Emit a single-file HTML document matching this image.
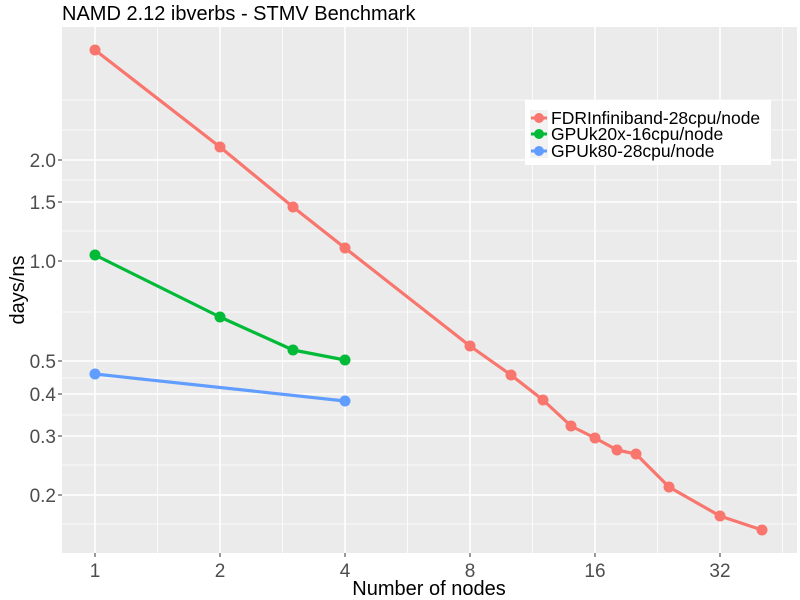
<!DOCTYPE html>
<html><head><style>body{margin:0;background:#fff}svg{display:block}</style></head><body>
<svg width="800" height="600" xmlns="http://www.w3.org/2000/svg" font-family="Liberation Sans, DejaVu Sans, sans-serif">
<rect width="800" height="600" fill="#fff"/>
<rect x="62" y="27" width="735" height="526" fill="#ebebeb"/>
<g stroke="#fff" stroke-width="0.8">
<line x1="62" x2="797" y1="100" y2="100"/><line x1="62" x2="797" y1="130" y2="130"/><line x1="62" x2="797" y1="180" y2="180"/><line x1="62" x2="797" y1="231" y2="231"/><line x1="62" x2="797" y1="312" y2="312"/><line x1="62" x2="797" y1="378" y2="378"/><line x1="62" x2="797" y1="415" y2="415"/><line x1="62" x2="797" y1="465" y2="465"/><line x1="62" x2="797" y1="524" y2="524"/>
<line y1="27" y2="553" x1="157.5" x2="157.5"/><line y1="27" y2="553" x1="282.5" x2="282.5"/><line y1="27" y2="553" x1="407.5" x2="407.5"/><line y1="27" y2="553" x1="532.5" x2="532.5"/><line y1="27" y2="553" x1="657.5" x2="657.5"/><line y1="27" y2="553" x1="782.5" x2="782.5"/>
</g>
<g stroke="#fff" stroke-width="1.6">
<line x1="62" x2="797" y1="160" y2="160"/><line x1="62" x2="797" y1="202" y2="202"/><line x1="62" x2="797" y1="261" y2="261"/><line x1="62" x2="797" y1="361" y2="361"/><line x1="62" x2="797" y1="394" y2="394"/><line x1="62" x2="797" y1="436" y2="436"/><line x1="62" x2="797" y1="495" y2="495"/>
<line y1="27" y2="553" x1="95" x2="95"/><line y1="27" y2="553" x1="220" x2="220"/><line y1="27" y2="553" x1="345" x2="345"/><line y1="27" y2="553" x1="470" x2="470"/><line y1="27" y2="553" x1="595" x2="595"/><line y1="27" y2="553" x1="720" x2="720"/>
</g>
<g fill="none" stroke-width="3.2" stroke-linejoin="round">
<polyline stroke="#f8766d" points="95,50 220,147 293,207 345,248 470,346 511,375 543,400 571,426 595,438 617,450 636,454 669,487 720,516 762,530"/>
<polyline stroke="#00ba38" points="95,255 220,317 293,350 345,360"/>
<polyline stroke="#619cff" points="95,374 345,401"/>
</g>
<g fill="#f8766d"><circle cx="95" cy="50" r="5.5"/><circle cx="220" cy="147" r="5.5"/><circle cx="293" cy="207" r="5.5"/><circle cx="345" cy="248" r="5.5"/><circle cx="470" cy="346" r="5.5"/><circle cx="511" cy="375" r="5.5"/><circle cx="543" cy="400" r="5.5"/><circle cx="571" cy="426" r="5.5"/><circle cx="595" cy="438" r="5.5"/><circle cx="617" cy="450" r="5.5"/><circle cx="636" cy="454" r="5.5"/><circle cx="669" cy="487" r="5.5"/><circle cx="720" cy="516" r="5.5"/><circle cx="762" cy="530" r="5.5"/></g>
<g fill="#00ba38"><circle cx="95" cy="255" r="5.5"/><circle cx="220" cy="317" r="5.5"/><circle cx="293" cy="350" r="5.5"/><circle cx="345" cy="360" r="5.5"/></g>
<g fill="#619cff"><circle cx="95" cy="374" r="5.5"/><circle cx="345" cy="401" r="5.5"/></g>
<g stroke="#333" stroke-width="1">
<line x1="58" x2="62" y1="160" y2="160"/><line x1="58" x2="62" y1="202" y2="202"/><line x1="58" x2="62" y1="261" y2="261"/><line x1="58" x2="62" y1="361" y2="361"/><line x1="58" x2="62" y1="394" y2="394"/><line x1="58" x2="62" y1="436" y2="436"/><line x1="58" x2="62" y1="495" y2="495"/>
<line y1="553" y2="557" x1="95" x2="95"/><line y1="553" y2="557" x1="220" x2="220"/><line y1="553" y2="557" x1="345" x2="345"/><line y1="553" y2="557" x1="470" x2="470"/><line y1="553" y2="557" x1="595" x2="595"/><line y1="553" y2="557" x1="720" x2="720"/>
</g>
<g fill="#4d4d4d" font-size="19" text-anchor="end">
<text x="56" y="167">2.0</text><text x="56" y="209">1.5</text><text x="56" y="268">1.0</text><text x="56" y="368">0.5</text><text x="56" y="401">0.4</text><text x="56" y="443">0.3</text><text x="56" y="502">0.2</text>
</g>
<g fill="#4d4d4d" font-size="19" text-anchor="middle">
<text x="95" y="577">1</text><text x="220" y="577">2</text><text x="345" y="577">4</text><text x="470" y="577">8</text><text x="595" y="577">16</text><text x="720" y="577">32</text>
</g>
<text x="429" y="595" font-size="20" text-anchor="middle" fill="#000">Number of nodes</text>
<text transform="translate(24,290) rotate(-90)" font-size="20" text-anchor="middle" fill="#000">days/ns</text>
<text x="62" y="20" font-size="20" fill="#000">NAMD 2.12 ibverbs - STMV Benchmark</text>
<rect x="525" y="100" width="246" height="65" fill="#fff"/>
<rect x="530" y="110" width="18" height="16" fill="#f2f2f2"/><rect x="530" y="126" width="18" height="16" fill="#f2f2f2"/><rect x="530" y="142" width="18" height="16" fill="#f2f2f2"/>
<line x1="531" x2="547" y1="118" y2="118" stroke="#f8766d" stroke-width="3"/><circle cx="539" cy="118" r="5" fill="#f8766d"/>
<line x1="531" x2="547" y1="134" y2="134" stroke="#00ba38" stroke-width="3"/><circle cx="539" cy="134" r="5" fill="#00ba38"/>
<line x1="531" x2="547" y1="151" y2="151" stroke="#619cff" stroke-width="3"/><circle cx="539" cy="151" r="5" fill="#619cff"/>
<g font-size="17.5" fill="#000"><text x="551" y="124">FDRInfiniband-28cpu/node</text><text x="551" y="140">GPUk20x-16cpu/node</text><text x="551" y="157">GPUk80-28cpu/node</text></g>
</svg>
</body></html>
